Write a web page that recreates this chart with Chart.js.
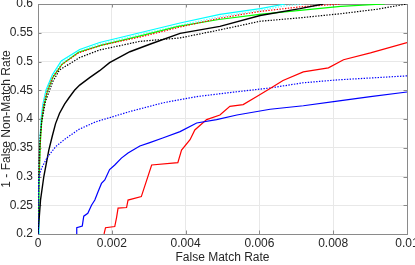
<!DOCTYPE html>
<html>
<head>
<meta charset="utf-8">
<script src="https://cdn.jsdelivr.net/npm/chart.js@4/dist/chart.umd.min.js"></script>
<style>
html,body{margin:0;padding:0;background:#fff;}
#wrap{width:415px;height:265px;}
</style>
</head>
<body>
<div id="wrap"><canvas id="c" width="415" height="265"></canvas></div>
<script>
// ---- data ----
const xTickLabels = ["0", "0.002", "0.004", "0.006", "0.008", "0.01"];
const yTickLabels = ["0.2", "0.25", "0.3", "0.35", "0.4", "0.45", "0.5", "0.55", "0.6"];
const xTitle = "False Match Rate";
const yTitle = "1 - False Non-Match Rate";

const cyanX = [0, 0.000027, 0.000054, 0.000087, 0.00013, 0.00022, 0.00039, 0.00063, 0.00113, 0.00167, 0.00276, 0.00385, 0.00493, 0.00602, 0.0067];
const cyanY = [0.2, 0.294, 0.364, 0.402, 0.425, 0.451, 0.477, 0.501, 0.521, 0.533, 0.55, 0.567, 0.582, 0.592, 0.6];

const cyanDotX = [0, 0.000027, 0.000054, 0.000087, 0.00013, 0.00022, 0.00039, 0.00063, 0.00113, 0.00167, 0.00276, 0.00385, 0.00493, 0.00602, 0.0067, 0.0072];
const cyanDotY = [0.2, 0.29, 0.36, 0.398, 0.421, 0.447, 0.473, 0.497, 0.518, 0.53, 0.547, 0.563, 0.578, 0.589, 0.597, 0.6];

const greenX = [0, 0.00003, 0.00006, 0.0001, 0.00015, 0.00025, 0.0004, 0.00065, 0.0011, 0.0017, 0.0028, 0.0038, 0.0049, 0.006, 0.0071, 0.0082, 0.0094];
const greenY = [0.2, 0.29, 0.355, 0.395, 0.42, 0.447, 0.472, 0.495, 0.516, 0.528, 0.545, 0.561, 0.573, 0.582, 0.589, 0.596, 0.6];

const redDotX = [0, 0.00003, 0.00006, 0.0001, 0.00015, 0.00025, 0.0004, 0.00065, 0.0011, 0.0017, 0.0028, 0.00385, 0.0049, 0.006, 0.0071, 0.0082];
const redDotY = [0.2, 0.3, 0.36, 0.4, 0.424, 0.449, 0.473, 0.495, 0.515, 0.528, 0.543, 0.56, 0.575, 0.587, 0.595, 0.6];

const blackDotX = [0, 0.00001, 0.00003, 0.00006, 0.0001, 0.0002, 0.0004, 0.00058, 0.00113, 0.00167, 0.00276, 0.00385, 0.00493, 0.00602, 0.0071, 0.00819, 0.0092, 0.01];
const blackDotY = [0.2, 0.27, 0.33, 0.37, 0.395, 0.43, 0.465, 0.485, 0.507, 0.52, 0.535, 0.541, 0.555, 0.57, 0.576, 0.583, 0.591, 0.6];

const blackX = [0, 0.000068, 0.000158, 0.000293, 0.000386, 0.000476, 0.000584, 0.00072, 0.00084, 0.00099, 0.00113, 0.0014, 0.00167, 0.00194, 0.00249, 0.00303, 0.00385, 0.00493, 0.00602, 0.0071, 0.00773];
const blackY = [0.2, 0.259, 0.3, 0.346, 0.37, 0.392, 0.41, 0.426, 0.437, 0.45, 0.459, 0.472, 0.484, 0.498, 0.517, 0.53, 0.549, 0.561, 0.58, 0.592, 0.6];

const blueDotX = [0, 0.000005, 0.00002, 0.00005, 0.0001, 0.00025, 0.00048, 0.00075, 0.00111, 0.00156, 0.00249, 0.00338, 0.00431, 0.0052, 0.00629, 0.00719, 0.00811, 0.01];
const blueDotY = [0.2, 0.25, 0.29, 0.305, 0.315, 0.333, 0.352, 0.366, 0.382, 0.395, 0.413, 0.428, 0.439, 0.446, 0.454, 0.463, 0.468, 0.475];

const blueX = [0.00104, 0.00105, 0.0012, 0.00124, 0.00135, 0.00145, 0.00154, 0.00163, 0.00172, 0.00181, 0.00194, 0.00208, 0.00226, 0.00244, 0.00276, 0.00303, 0.00338, 0.00385, 0.0043, 0.00484, 0.00539, 0.00629, 0.00719, 0.00811, 0.00901, 0.01];
const blueY = [0.2, 0.211, 0.214, 0.231, 0.236, 0.25, 0.259, 0.274, 0.288, 0.294, 0.312, 0.32, 0.332, 0.341, 0.353, 0.359, 0.367, 0.378, 0.393, 0.399, 0.407, 0.417, 0.423, 0.431, 0.439, 0.447];

const redX = [0.00179, 0.00183, 0.00208, 0.00213, 0.00217, 0.0024, 0.00244, 0.0028, 0.00308, 0.00379, 0.00389, 0.00412, 0.00425, 0.00457, 0.00493, 0.0052, 0.00556, 0.00593, 0.00629, 0.00664, 0.00719, 0.00787, 0.00828, 0.00901, 0.01];
const redY = [0.2, 0.211, 0.213, 0.229, 0.245, 0.246, 0.259, 0.265, 0.32, 0.324, 0.346, 0.364, 0.381, 0.399, 0.407, 0.422, 0.425, 0.439, 0.453, 0.467, 0.482, 0.489, 0.503, 0.515, 0.533];

// ---- build ----
function pts(xs, ys){ return xs.map((x,i)=>({x:x, y:ys[i]})); }
function ds(xs, ys, color, dotted, w){
  return {
    data: pts(xs, ys), borderColor: color, borderWidth: w || 1.2,
    borderDash: dotted ? [1.4, 1.4] : [], pointRadius: 0, tension: 0, fill: false
  };
}
const datasets = [
  ds(blueX, blueY, '#0000ff', false),
  ds(redX, redY, '#ff0000', false),
  ds(blueDotX, blueDotY, '#0000ff', true),
  ds(blackDotX, blackDotY, '#000000', true),
  ds(blackX, blackY, '#000000', false, 1.4),
  ds(redDotX, redDotY, '#ff0000', true),
  ds(greenX, greenY, '#00ff00', false),
  ds(cyanDotX, cyanDotY, '#66ffff', true),
  ds(cyanX, cyanY, '#00ffff', false)
];

const AXIS = '#8a8a8a';
const boxPlugin = {
  id: 'box',
  beforeDatasetsDraw(chart){
    const {ctx, chartArea:a, scales} = chart;
    ctx.save();
    ctx.strokeStyle = AXIS; ctx.lineWidth = 1;
    const L = 3.5;
    ctx.beginPath();
    scales.x.ticks.forEach(t=>{
      const px = Math.round(scales.x.getPixelForValue(t.value)) + 0.5;
      ctx.moveTo(px, a.bottom); ctx.lineTo(px, a.bottom - L);
      ctx.moveTo(px, a.top); ctx.lineTo(px, a.top + L);
    });
    scales.y.ticks.forEach(t=>{
      const py = Math.round(scales.y.getPixelForValue(t.value)) + 0.5;
      ctx.moveTo(a.left, py); ctx.lineTo(a.left + L, py);
      ctx.moveTo(a.right, py); ctx.lineTo(a.right - L, py);
    });
    ctx.stroke();
    ctx.strokeRect(Math.round(a.left)+0.5, Math.round(a.top)+0.5, Math.round(a.right-a.left), Math.round(a.bottom-a.top));
    ctx.restore();
  }
};

const FONT = {family: '"Liberation Sans", Arial, Helvetica, sans-serif', size: 12, lineHeight: 1.15};
new Chart(document.getElementById('c'), {
  type: 'line',
  data: {datasets},
  plugins: [boxPlugin],
  options: {
    responsive: false, animation: false, events: [],
    layout: {padding: {left: 0, right: 8, top: 4, bottom: 0}},
    plugins: {legend: {display: false}, tooltip: {enabled: false}},
    scales: {
      x: {
        type: 'linear', min: 0, max: 0.01,
        ticks: {stepSize: 0.002, color: '#262626', font: FONT, padding: 3, maxRotation: 0,
          callback: (v, i) => xTickLabels[i]},
        grid: {color: '#e8e8e8', drawTicks: false},
        border: {display: false},
        title: {display: true, text: xTitle, color: '#262626', font: FONT, padding: {top: 0, bottom: 0}},
        afterFit(s){ s.height = 31; s.paddingLeft = 0; s.paddingRight = 0; }
      },
      y: {
        type: 'linear', min: 0.2, max: 0.6,
        ticks: {stepSize: 0.05, color: '#262626', font: FONT, padding: 5,
          callback: (v, i) => yTickLabels[i]},
        grid: {color: '#e8e8e8', drawTicks: false},
        border: {display: false},
        title: {display: true, text: yTitle, color: '#262626', font: FONT, padding: 0},
        afterFit(s){ s.width = 38; s.paddingTop = 0; s.paddingBottom = 0; }
      }
    }
  }
});
</script>
</body>
</html>
